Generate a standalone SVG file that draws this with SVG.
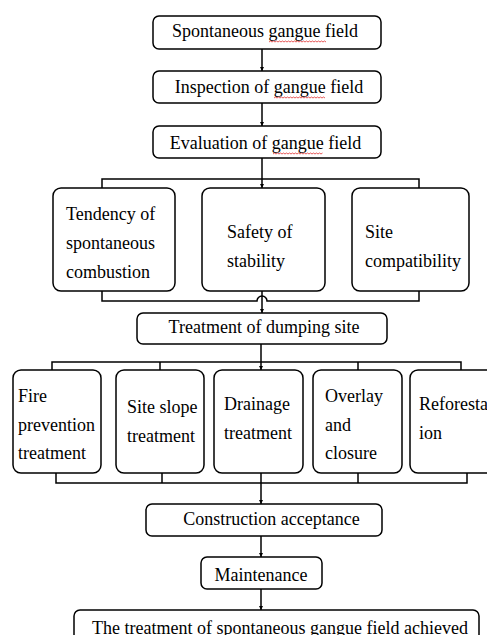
<svg xmlns="http://www.w3.org/2000/svg" width="487" height="635" viewBox="0 0 487 635">
<style>
.box{fill:#fff;stroke:#000;stroke-width:1.5}
.t{font-family:"Liberation Serif","Times New Roman",serif;font-size:18px;fill:#000}
.c{text-anchor:middle}
.ln{fill:none;stroke:#000;stroke-width:1.5}
.sp{fill:none;stroke:#e03030;stroke-width:0.8}
</style>
<defs>
<marker id="ah" viewBox="0 0 6 6" refX="6" refY="3" markerWidth="4" markerHeight="4" orient="auto" markerUnits="userSpaceOnUse">
<path d="M0,0 L6,3 L0,6 z" fill="#000"/>
</marker>
</defs>
<rect width="487" height="635" fill="#fff"/>
<g id="connectors">
<line class="ln" x1="262" y1="49" x2="262" y2="71" marker-end="url(#ah)"/>
<line class="ln" x1="262" y1="103" x2="262" y2="126" marker-end="url(#ah)"/>
<line class="ln" x1="262" y1="158" x2="262" y2="188" marker-end="url(#ah)"/>
<path class="ln" d="M102,188 V179 H419 V188"/>
<path class="ln" d="M102,291 V301 H257 A5,5 0 0 1 267,301 H419 V291"/>
<line class="ln" x1="262" y1="291" x2="262" y2="313" marker-end="url(#ah)"/>
<line class="ln" x1="261" y1="344" x2="261" y2="370" marker-end="url(#ah)"/>
<path class="ln" d="M52,370 V362 H461 V370 M160,362 V370 M358,362 V370"/>
<path class="ln" d="M56,473 V483 H467 V473 M162,483 V473 M358,483 V473"/>
<line class="ln" x1="261" y1="473" x2="261" y2="504" marker-end="url(#ah)"/>
<line class="ln" x1="261" y1="536" x2="261" y2="557" marker-end="url(#ah)"/>
<line class="ln" x1="261" y1="589" x2="261" y2="610" marker-end="url(#ah)"/>
</g>
<g id="n1"><rect class="box" x="153" y="16" width="228" height="33" rx="6"/><text class="t c" x="265" y="37">Spontaneous gangue field</text><path class="sp" d="M269,42 l1.5,-1 1.5,1 1.5,-1 1.5,1 1.5,-1 1.5,1 1.5,-1 1.5,1 1.5,-1 1.5,1 1.5,-1 1.5,1 1.5,-1 1.5,1 1.5,-1 1.5,1 1.5,-1 1.5,1 1.5,-1 1.5,1 1.5,-1 1.5,1 1.5,-1 1.5,1 1.5,-1 1.5,1 1.5,-1 1.5,1 1.5,-1 1.5,1 1.5,-1 1.5,1 1.5,-1 1.5,1 1.5,-1 1.5,1 1.5,-1 1.5,1"/></g>
<g id="n2"><rect class="box" x="153" y="71" width="228" height="32" rx="6"/><text class="t c" x="269" y="93">Inspection of gangue field</text><path class="sp" d="M274,98 l1.5,-1 1.5,1 1.5,-1 1.5,1 1.5,-1 1.5,1 1.5,-1 1.5,1 1.5,-1 1.5,1 1.5,-1 1.5,1 1.5,-1 1.5,1 1.5,-1 1.5,1 1.5,-1 1.5,1 1.5,-1 1.5,1 1.5,-1 1.5,1 1.5,-1 1.5,1 1.5,-1 1.5,1 1.5,-1 1.5,1 1.5,-1 1.5,1 1.5,-1 1.5,1 1.5,-1 1.5,1"/></g>
<g id="n3"><rect class="box" x="153" y="126" width="228" height="32" rx="6"/><text class="t c" x="265.5" y="149">Evaluation of gangue field</text><path class="sp" d="M273,154 l1.5,-1 1.5,1 1.5,-1 1.5,1 1.5,-1 1.5,1 1.5,-1 1.5,1 1.5,-1 1.5,1 1.5,-1 1.5,1 1.5,-1 1.5,1 1.5,-1 1.5,1 1.5,-1 1.5,1 1.5,-1 1.5,1 1.5,-1 1.5,1 1.5,-1 1.5,1 1.5,-1 1.5,1 1.5,-1 1.5,1 1.5,-1 1.5,1 1.5,-1 1.5,1 1.5,-1"/></g>
<g id="n4"><rect class="box" x="53" y="188" width="122" height="103" rx="8"/><text class="t" x="66" y="220">Tendency of</text><text class="t" x="66" y="249">spontaneous</text><text class="t" x="66" y="278">combustion</text></g>
<g id="n5"><rect class="box" x="202" y="188" width="123" height="103" rx="8"/><text class="t" x="227" y="238">Safety of</text><text class="t" x="227" y="267">stability</text></g>
<g id="n6"><rect class="box" x="352" y="188" width="117" height="103" rx="8"/><text class="t" x="365" y="238">Site</text><text class="t" x="365" y="267">compatibility</text></g>
<g id="n7"><rect class="box" x="137" y="313" width="250" height="31" rx="6"/><text class="t c" x="264" y="333">Treatment of dumping site</text></g>
<g id="n8"><rect class="box" x="13" y="370" width="88" height="103" rx="8"/><text class="t" x="18" y="402">Fire</text><text class="t" x="18" y="431">prevention</text><text class="t" x="18" y="459">treatment</text></g>
<g id="n9"><rect class="box" x="116" y="370" width="88" height="103" rx="8"/><text class="t" x="127" y="413">Site slope</text><text class="t" x="127" y="442">treatment</text></g>
<g id="n10"><rect class="box" x="214" y="370" width="89" height="103" rx="8"/><text class="t" x="224" y="410">Drainage</text><text class="t" x="224" y="439">treatment</text></g>
<g id="n11"><rect class="box" x="313" y="370" width="89" height="103" rx="8"/><text class="t" x="325" y="402">Overlay</text><text class="t" x="325" y="431">and</text><text class="t" x="325" y="459">closure</text></g>
<g id="n12"><rect class="box" x="410" y="370" width="100" height="103" rx="8"/><text class="t" x="419" y="410">Reforestat</text><text class="t" x="419" y="439">ion</text></g>
<g id="n13"><rect class="box" x="146" y="504" width="236" height="32" rx="6"/><text class="t c" x="271.5" y="525">Construction acceptance</text></g>
<g id="n14"><rect class="box" x="201" y="557" width="121" height="32" rx="6"/><text class="t c" x="261" y="581">Maintenance</text></g>
<g id="n15"><rect class="box" x="74" y="610" width="405" height="40" rx="6"/><text class="t c" x="280" y="634">The treatment of spontaneous gangue field achieved</text></g>
</svg>
